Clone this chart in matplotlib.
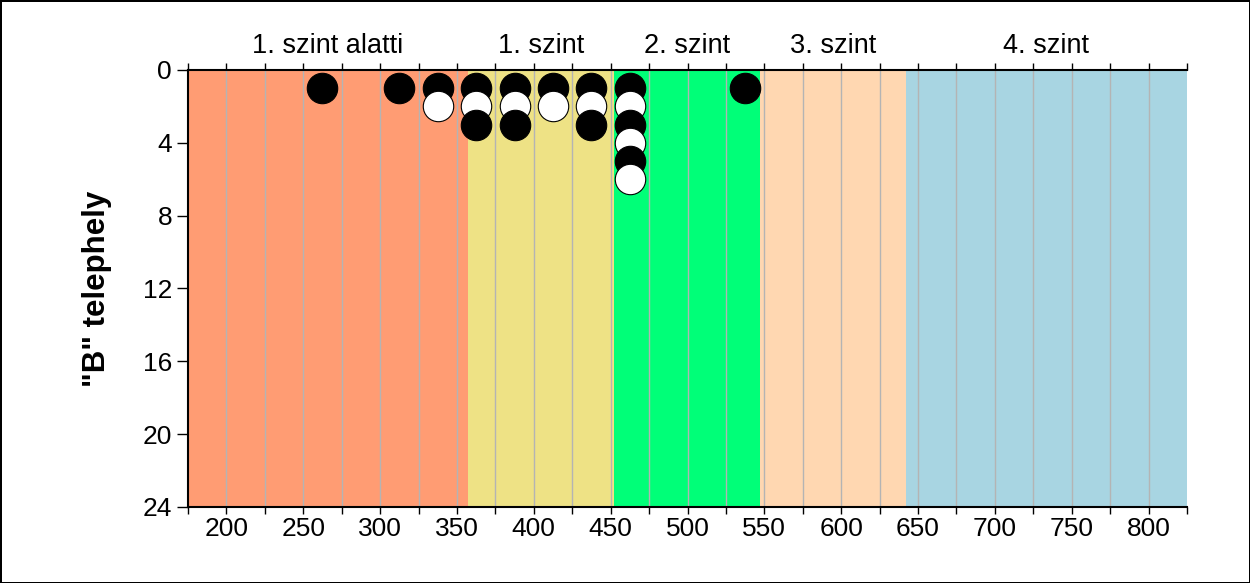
import matplotlib
matplotlib.use('Agg')
import matplotlib.pyplot as plt
import numpy as np

plt.rcParams['font.family'] = ['Liberation Sans', 'DejaVu Sans']

# level bands (score limits) and their labels / colours
band_edges = [175, 357, 452, 547, 642, 825]
band_labels = ['1. szint alatti', '1. szint', '2. szint', '3. szint', '4. szint']
band_colors = ['#FF9C73', '#EEE285', '#00FF78', '#FFD7B1', '#A8D5E2']

# points: score (bin centre) and stack position
black_x = [262.5, 312.5, 337.5, 362.5, 362.5, 387.5, 387.5, 412.5, 437.5, 437.5, 462.5, 462.5, 462.5, 537.5]
black_y = [1, 1, 1, 1, 3, 1, 3, 1, 1, 3, 1, 3, 5, 1]
white_x = [337.5, 362.5, 387.5, 412.5, 437.5, 462.5, 462.5, 462.5]
white_y = [2, 2, 2, 2, 2, 2, 4, 6]

x_ticks = [200, 250, 300, 350, 400, 450, 500, 550, 600, 650, 700, 750, 800]
y_ticks = [0, 4, 8, 12, 16, 20, 24]


def main():
	fig = plt.figure(figsize=(12.5, 5.83), dpi=100, edgecolor='black', linewidth=2)
	ax = fig.add_axes([0.1504, 0.1304, 0.7992, 0.7496])

	for i in range(len(band_labels)):
		ax.axvspan(band_edges[i], band_edges[i + 1], color=band_colors[i], zorder=0, lw=0)
		ax.text((band_edges[i] + band_edges[i + 1]) / 2, -0.6, band_labels[i],
			ha='center', va='bottom', fontsize=19.5, transform=ax.transData)

	for gx in np.arange(200, 825, 25):
		ax.axvline(gx, color='#b4b4b4', lw=1, zorder=1)

	# draw points in order of stack height so higher ones sit on top
	xs = black_x + white_x
	ys = black_y + white_y
	cs = ['black'] * len(black_x) + ['white'] * len(white_x)
	order = np.argsort(ys, kind='stable')
	for k in order:
		ax.scatter(xs[k], ys[k], s=480, facecolor=cs[k], edgecolor='black',
			linewidth=0.8, zorder=3, clip_on=False)

	ax.set_xlim(175, 825)
	ax.set_ylim(24, 0)
	ax.set_xticks(x_ticks)
	ax.set_xticks(np.arange(175, 826, 25), minor=True)
	ax.set_yticks(y_ticks)
	ax.tick_params(axis='x', which='both', direction='out', top=True, labeltop=False,
		length=5, width=1, labelsize=19, pad=2)
	ax.tick_params(axis='y', direction='out', length=8, width=1, labelsize=19)
	ax.spines['right'].set_visible(False)
	for s in ['left', 'bottom', 'top']:
		ax.spines[s].set_linewidth(1.5)

	ax.set_ylabel('"B" telephely', fontsize=22.5, fontweight='bold', labelpad=22)

	fig.savefig('out.png', dpi=100)


if __name__ == '__main__':
	main()
